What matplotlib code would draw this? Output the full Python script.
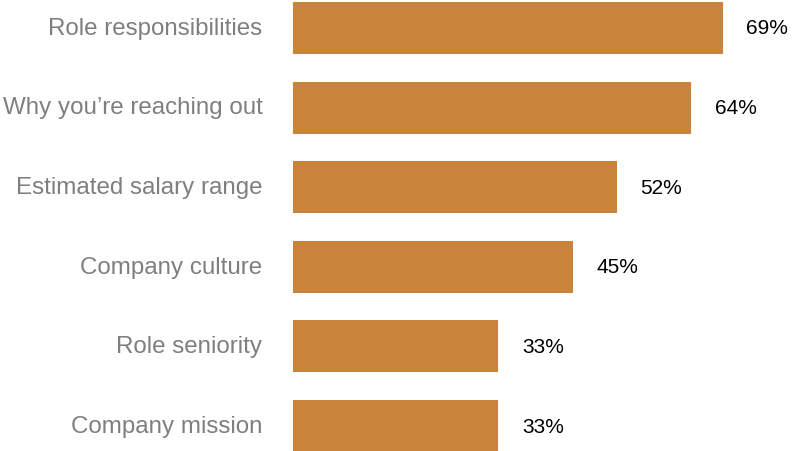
import matplotlib.pyplot as plt
import matplotlib.transforms as mtransforms

categories = [
    "Role responsibilities",
    "Why you\u2019re reaching out",
    "Estimated salary range",
    "Company culture",
    "Role seniority",
    "Company mission",
]
values = [69, 64, 52, 45, 33, 33]

BAR_COLOR = "#c8843a"
LABEL_COLOR = "#7f7f7f"

plt.rcParams["font.family"] = ["Liberation Sans", "DejaVu Sans"]

fig = plt.figure(figsize=(8, 4.52), dpi=100)
ax = fig.add_axes([293 / 800, 0, 498 / 800, 1])

y = list(range(len(categories)))
bars = ax.barh(y, values, height=0.653, color=BAR_COLOR)

ax.set_xlim(0, 80)
ax.set_ylim(5.314, -0.364)

ax.set_yticks(y)
ax.set_yticklabels(categories, fontsize=17.4, color=LABEL_COLOR)
ax.tick_params(axis="y", length=0, pad=22)
# category labels sit a touch above the bar centres in the original
lift = mtransforms.ScaledTranslation(0, 2 / 72, fig.dpi_scale_trans)
for lbl in ax.get_yticklabels():
    lbl.set_transform(lbl.get_transform() + lift)
ax.set_xticks([])
for spine in ax.spines.values():
    spine.set_visible(False)

ax.bar_label(bars, labels=[f"{v}%" for v in values], padding=17, fontsize=15,
             color="black")

fig.savefig("out.png", dpi=100)
